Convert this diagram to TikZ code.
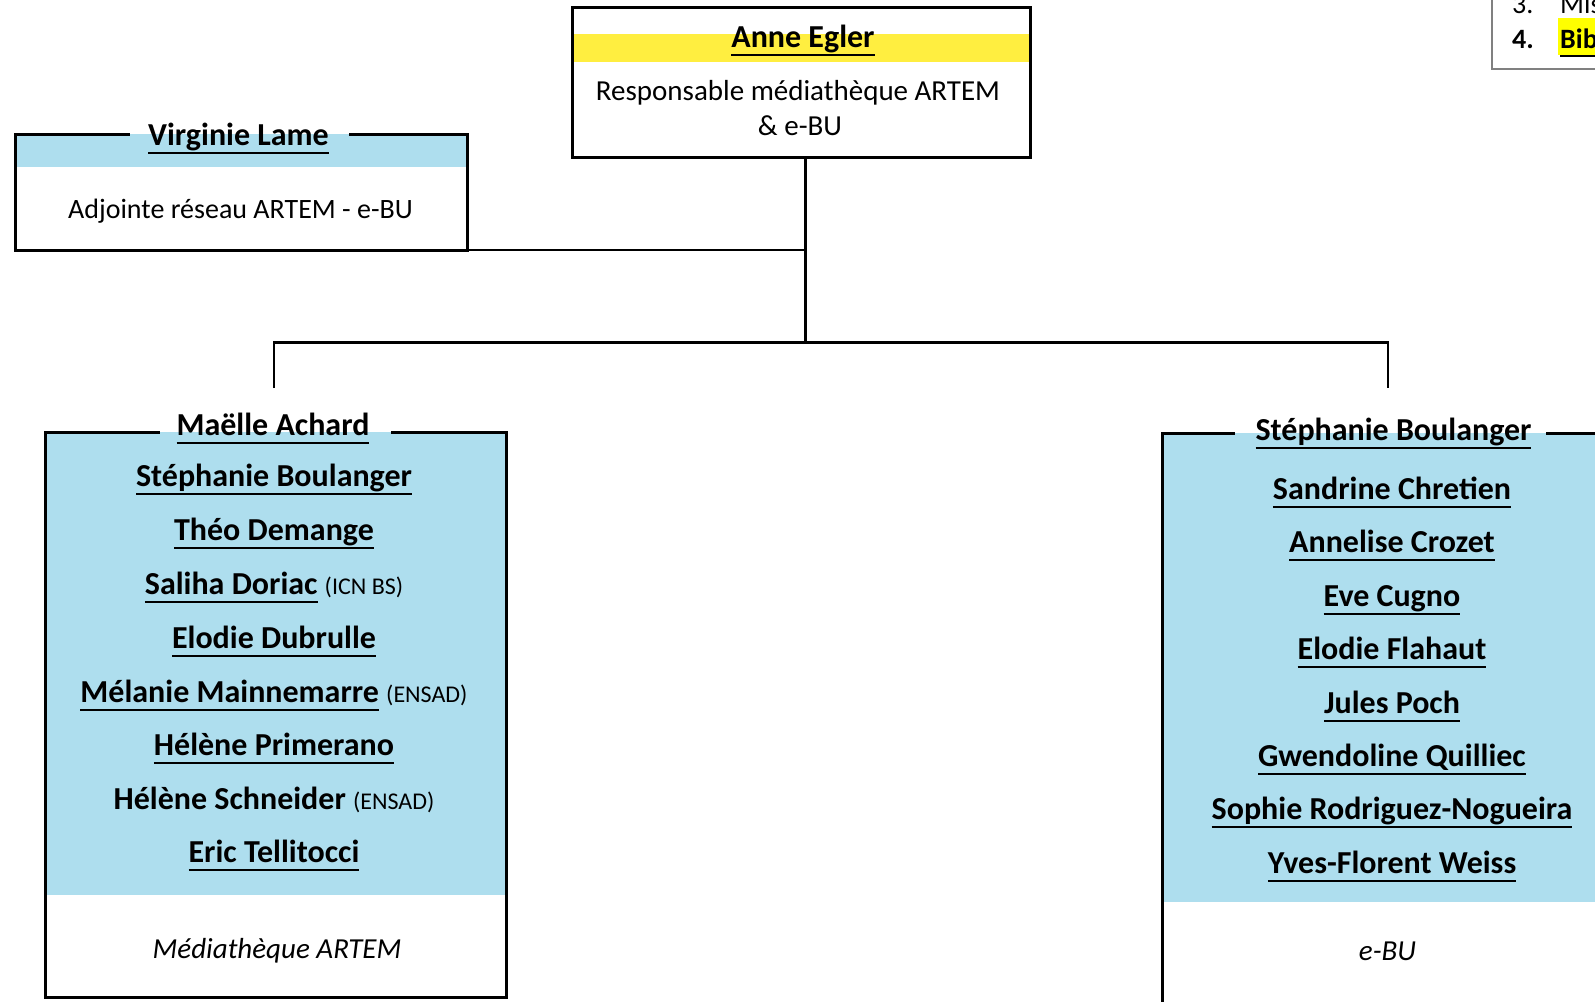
\documentclass[tikz,border=0pt]{standalone}
\usepackage{fontspec}
\setmainfont{Carlito}
\definecolor{lblue}{RGB}{174,222,238}
\definecolor{yband}{RGB}{255,238,64}
\definecolor{hlyellow}{RGB}{255,255,0}
\newcommand\myul[1]{\setbox0\hbox{#1}\rlap{\rule[-8.5pt]{\wd0}{2pt}}\box0\relax}
\newcommand\paren[1]{{\mdseries\fontsize{24}{28}\selectfont #1}}
\begin{document}
\begin{tikzpicture}[x=1pt,y=-1pt,
  bord/.style={line width=3pt, line cap=rect},
  conn/.style={line width=2.5pt},
  frame/.style={inner sep=0pt, outer sep=0pt},
  nm/.style={anchor=base, inner sep=0pt, font=\fontsize{32}{38}\selectfont\bfseries},
  tx/.style={anchor=base, inner sep=0pt, font=\fontsize{29}{35}\selectfont},
  itx/.style={anchor=base, inner sep=0pt, font=\fontsize{29}{35}\selectfont\itshape},
  lg/.style={anchor=base west, inner sep=0pt, font=\fontsize{28}{32}\selectfont}]
\useasboundingbox (0,0) rectangle (1595,1001);
\clip (0,0) rectangle (1595,1001);

% frames
\node[frame, minimum width=458pt, minimum height=150pt] (anne) at (801,82) {};
\node[frame, minimum width=452pt, minimum height=116pt] (vl) at (241,192) {};
\node[frame, minimum width=461pt, minimum height=565pt] (ma) at (275.5,714.5) {};
\node[frame, minimum width=460pt, minimum height=600pt] (sb) at (1392,733) {};
\node[frame, minimum width=200pt, minimum height=120pt] (lgd) at (1592,9) {};

% fills
\fill[yband] (anne.west |- 0,34) rectangle (anne.east |- 0,62);
\fill[lblue] (vl.north west) rectangle (vl.east |- 0,167);
\fill[lblue] (ma.north west) rectangle (ma.east |- 0,895);
\fill[lblue] (sb.north west) rectangle (sb.east |- 0,902);
\fill[hlyellow] (1558,18) rectangle (1600,55);

% borders
\draw[bord] (anne.north west) rectangle (anne.south east);
\draw[bord] (128,134) -- (vl.north west) -- (vl.south west) -- (vl.south east) -- (vl.north east) -- (350,134);
\draw[bord] (158,432) -- (ma.north west) -- (ma.south west) -- (ma.south east) -- (ma.north east) -- (392,432);
\draw[bord] (1233,433) -- (sb.north west) -- (sb.south west) -- (sb.south east) -- (sb.north east) -- (1547,433);
\draw[line width=2pt, gray] (lgd.north west) rectangle (lgd.south east);

% connectors
\coordinate (j) at (805.5,342.5);
\coordinate (jl) at (274,388);
\coordinate (jr) at (1388,388);
\draw[conn] (j |- anne.south) -- (j);
\draw[conn] (vl.south east) -- (vl.south east -| j);
\draw[conn] (jl) |- (j) -| (jr);

% top box
\node[nm] (ae) at (803,47) {\myul{Anne Egler}};
\node[tx] (ae1) at (798,100.5) {Responsable médiathèque ARTEM};
\node[tx] (ae2) at (800,135) {\& e-BU};

% Virginie
\node[nm] (vlt) at (238.5,145) {\myul{Virginie Lame}};
\node[tx, font=\fontsize{28}{34}\selectfont] (vl1) at (240.5,218) {Adjointe réseau ARTEM - e-BU};

% left box
\node[nm] (mat) at (273,435) {\myul{Maëlle Achard}};
\node[nm] (l1) at (274,486) {\myul{Stéphanie Boulanger}};
\node[nm] (l2) at (274,540) {\myul{Théo Demange}};
\node[nm] (l3) at (274,594) {\myul{Saliha Doriac} \paren{(ICN BS)}};
\node[nm] (l4) at (274,648) {\myul{Elodie Dubrulle}};
\node[nm] (l5) at (274,702) {\myul{Mélanie Mainnemarre} \paren{(ENSAD)}};
\node[nm] (l6) at (274,755) {\myul{Hélène Primerano}};
\node[nm] (l7) at (274,809) {Hélène Schneider \paren{(ENSAD)}};
\node[nm] (l8) at (274,862) {\myul{Eric Tellitocci}};
\node[itx] (mal) at (277,958) {Médiathèque ARTEM};

% right box
\node[nm] (sbt) at (1393.5,440) {\myul{Stéphanie Boulanger}};
\node[nm] (r1) at (1392,499) {\myul{Sandrine Chretien}};
\node[nm] (r2) at (1392,552) {\myul{Annelise Crozet}};
\node[nm] (r3) at (1392,606) {\myul{Eve Cugno}};
\node[nm] (r4) at (1392,659) {\myul{Elodie Flahaut}};
\node[nm] (r5) at (1392,713) {\myul{Jules Poch}};
\node[nm] (r6) at (1392,766) {\myul{Gwendoline Quilliec}};
\node[nm] (r7) at (1392,819) {\myul{Sophie Rodriguez-Nogueira}};
\node[nm] (r8) at (1392,873) {\myul{Yves-Florent Weiss}};
\node[itx] (sbl) at (1387.5,960) {e-BU};

% legend corner
\node[lg] (n3) at (1512,13) {3.};
\node[lg] (m3) at (1560,13) {Mis};
\node[lg, font=\fontsize{28}{32}\selectfont\bfseries] (n4) at (1512,48) {4.};
\node[lg, font=\fontsize{28}{32}\selectfont\bfseries] (b4) at (1560,48) {\myul{Bib}};
\end{tikzpicture}
\end{document}
